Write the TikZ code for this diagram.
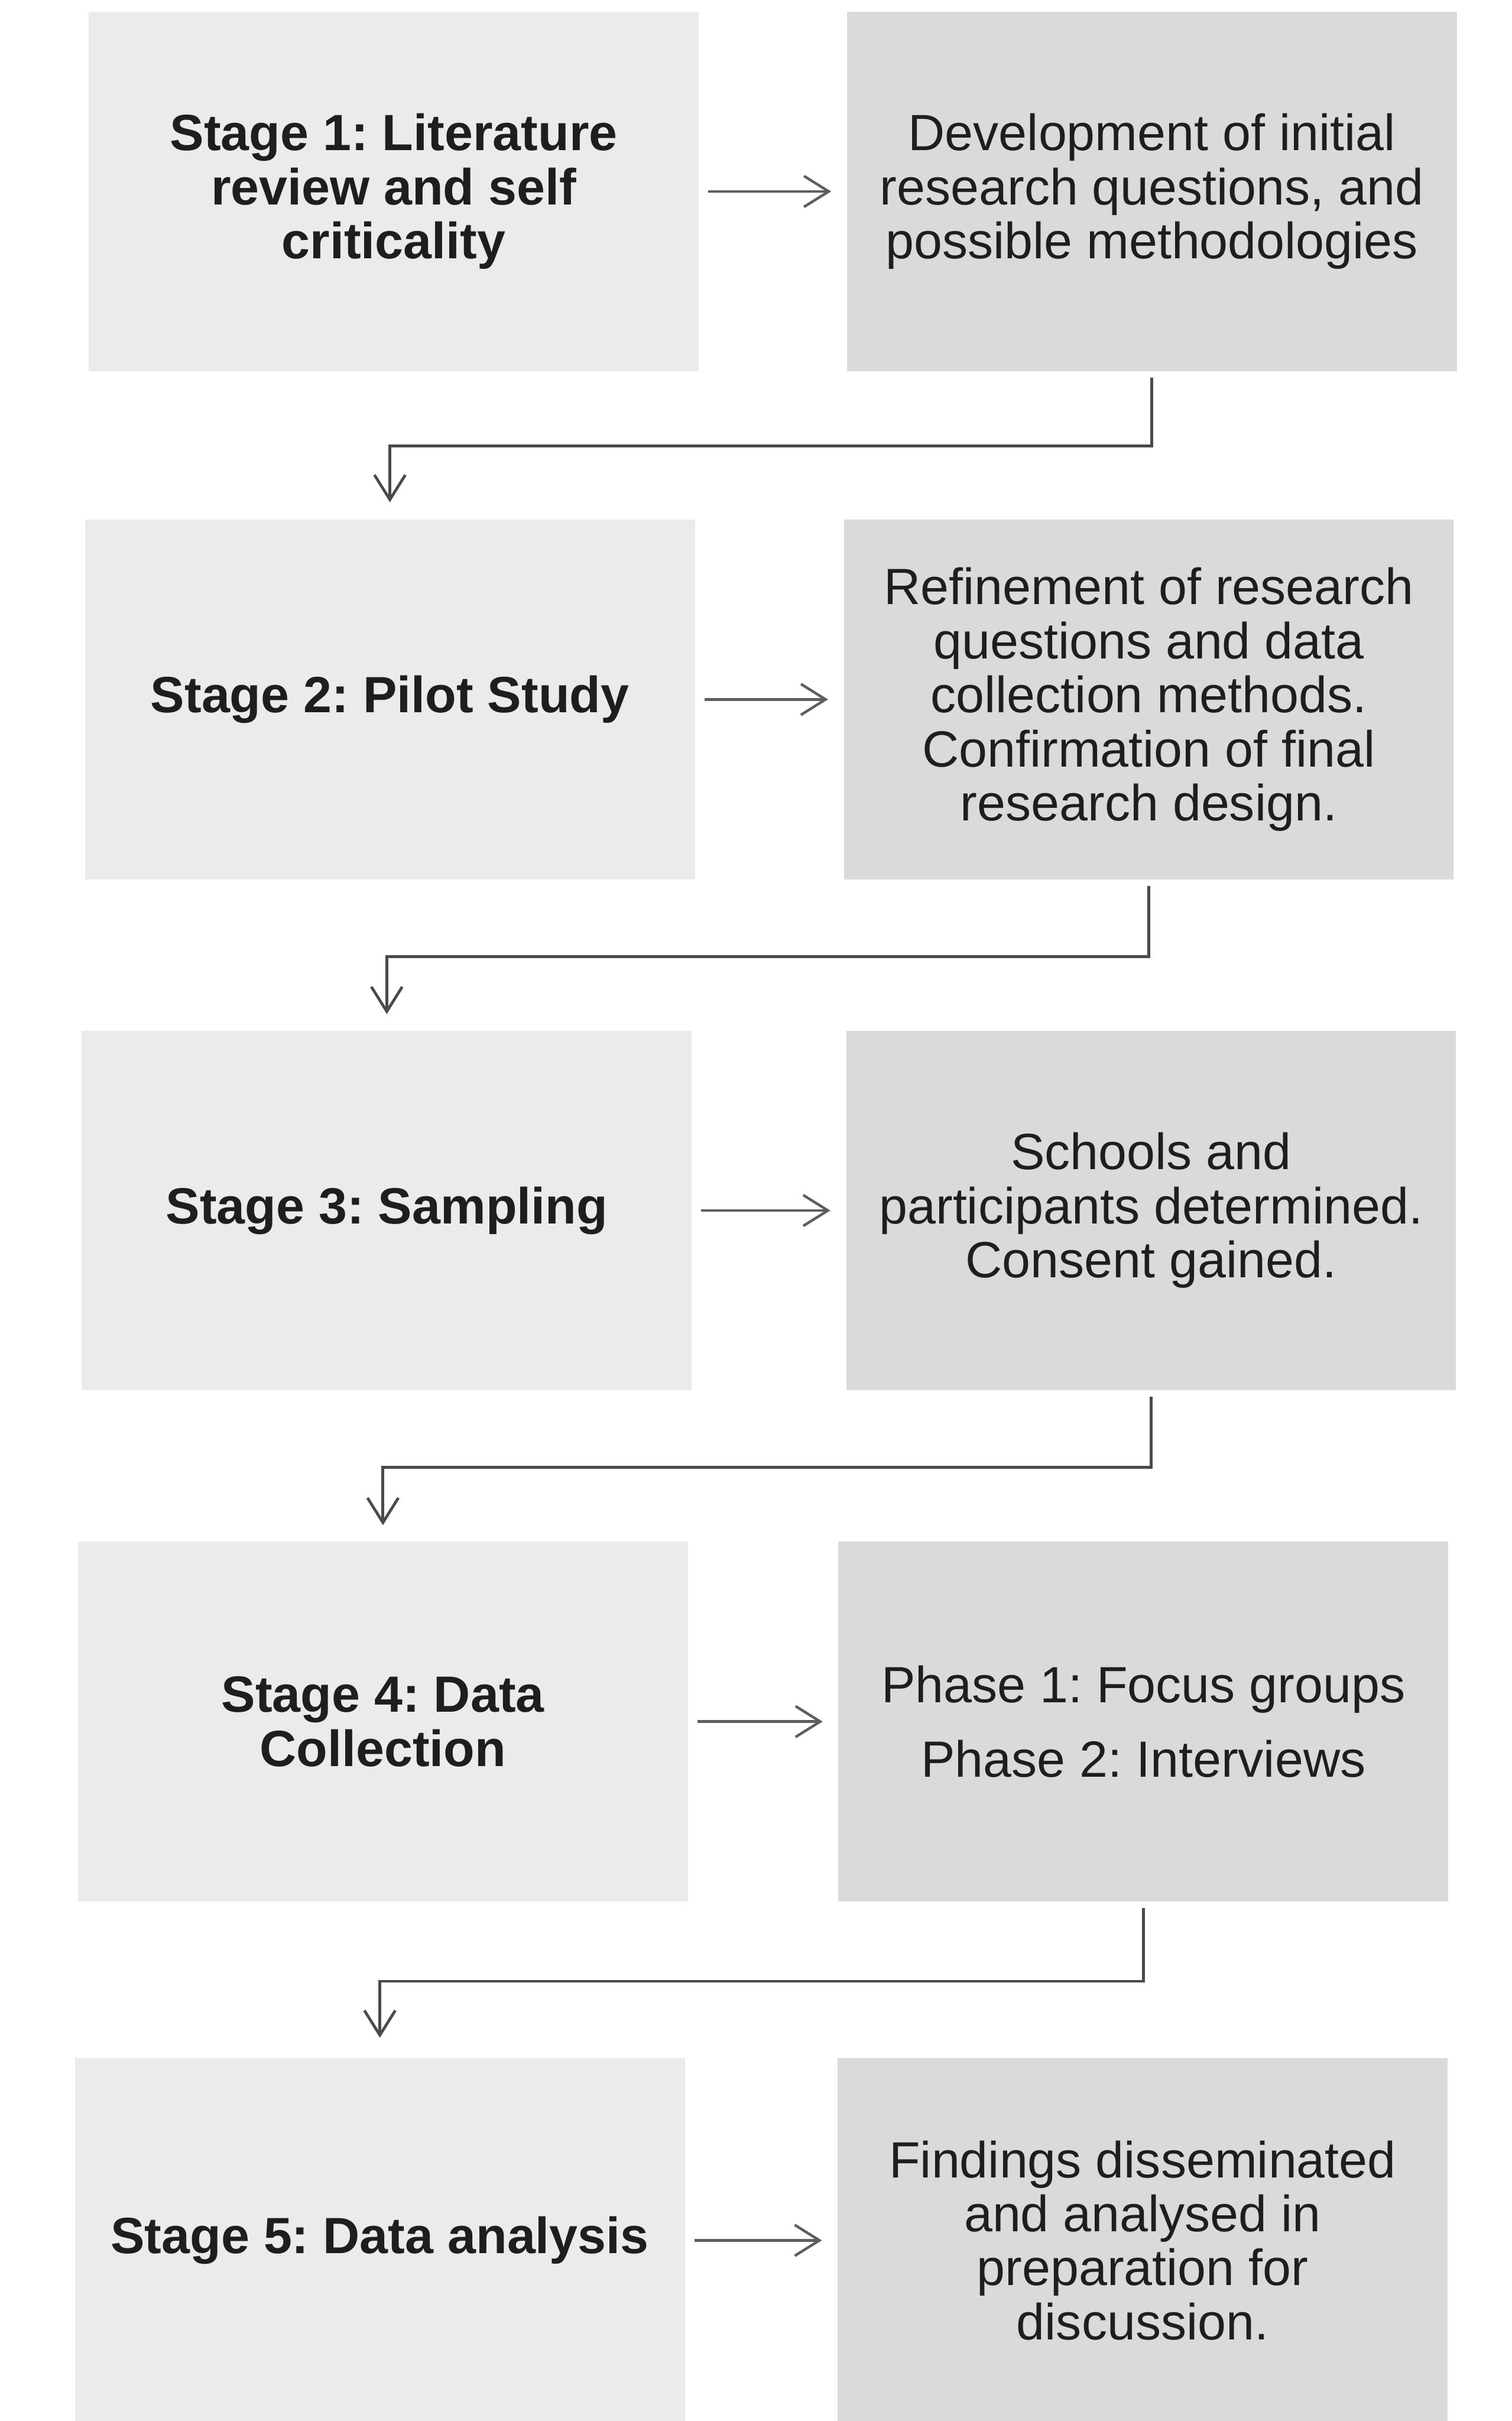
\documentclass[tikz,border=0pt]{standalone}
\usepackage{fontspec}
\setmainfont{Liberation Sans}
\usetikzlibrary{arrows.meta}
\definecolor{lboxc}{HTML}{EBEBEB}
\definecolor{rboxc}{HTML}{DADADA}
\definecolor{txtc}{HTML}{1E1E1E}
\definecolor{arrc}{HTML}{4A4A4A}
\definecolor{harrc}{HTML}{5E5E5E}
\frenchspacing
\begin{document}
\begin{tikzpicture}[x=1pt,y=-1pt,
  stagebox/.style={inner sep=0pt, minimum width=395pt, minimum height=233pt,
    fill=lboxc, text=txtc, align=center,
    font=\fontsize{33}{35}\selectfont\bfseries\frenchspacing},
  resbox/.style={inner sep=0pt, minimum width=395pt, minimum height=233pt,
    fill=rboxc, text=txtc, align=center,
    font=\fontsize{33}{35}\selectfont\frenchspacing},
  harr/.style={draw=harrc, line width=1.7pt, shorten <=6pt, shorten >=10pt,
    -{Straight Barb[length=16pt,width=20pt,line width=1.7pt]}},
  varr/.style={draw=arrc, line width=1.8pt, shorten <=4pt,
    -{Straight Barb[length=16pt,width=20pt,line width=1.8pt]}}]
\fill[white] (0,0) rectangle (979,1568);
\useasboundingbox (0,0) rectangle (979,1568);

% Row 1
\node[stagebox] (L1) at (255,124) {Stage 1: Literature\\review and self\\criticality};
\node[resbox] (R1) at (746,124) {Development of initial\\research questions, and\\possible methodologies};
% Row 2
\node[stagebox] (L2) at (252.5,453) {Stage 2: Pilot Study};
\node[resbox] (R2) at (744,453) {Refinement of research\\questions and data\\collection methods.\\Confirmation of final\\research design.};
% Row 3
\node[stagebox] (L3) at (250.5,784) {Stage 3: Sampling};
\node[resbox] (R3) at (745.5,784) {Schools and\\participants determined.\\Consent gained.};
% Row 4
\node[stagebox] (L4) at (248,1115) {Stage 4: Data\\Collection};
\node[resbox] (R4) at (740.5,1115) {Phase 1: Focus groups\\[13pt]Phase 2: Interviews};
% Row 5
\node[stagebox, minimum height=236pt] (L5) at (246,1451) {Stage 5: Data analysis};
\node[resbox, minimum height=236pt] (R5) at (740,1451) {Findings disseminated\\and analysed in\\preparation for\\discussion.};

% horizontal arrows
\draw[harr] (L1) -- (R1);
\draw[harr] (L2) -- (R2);
\draw[harr] (L3) -- (R3);
\draw[harr] (L4) -- (R4);
\draw[harr] (L5) -- (R5);

% vertical connectors
\draw[varr] (R1.south) -- ++(0,48) -| ([yshift=11pt]L2.north);
\draw[varr] (R2.south) -- ++(0,50) -| ([yshift=10.5pt]L3.north);
\draw[varr] (R3.south) -- ++(0,49.5) -| ([yshift=10.5pt]L4.north);
\draw[varr] (R4.south) -- ++(0,51.5) -| ([yshift=13pt]L5.north);
\end{tikzpicture}
\end{document}
